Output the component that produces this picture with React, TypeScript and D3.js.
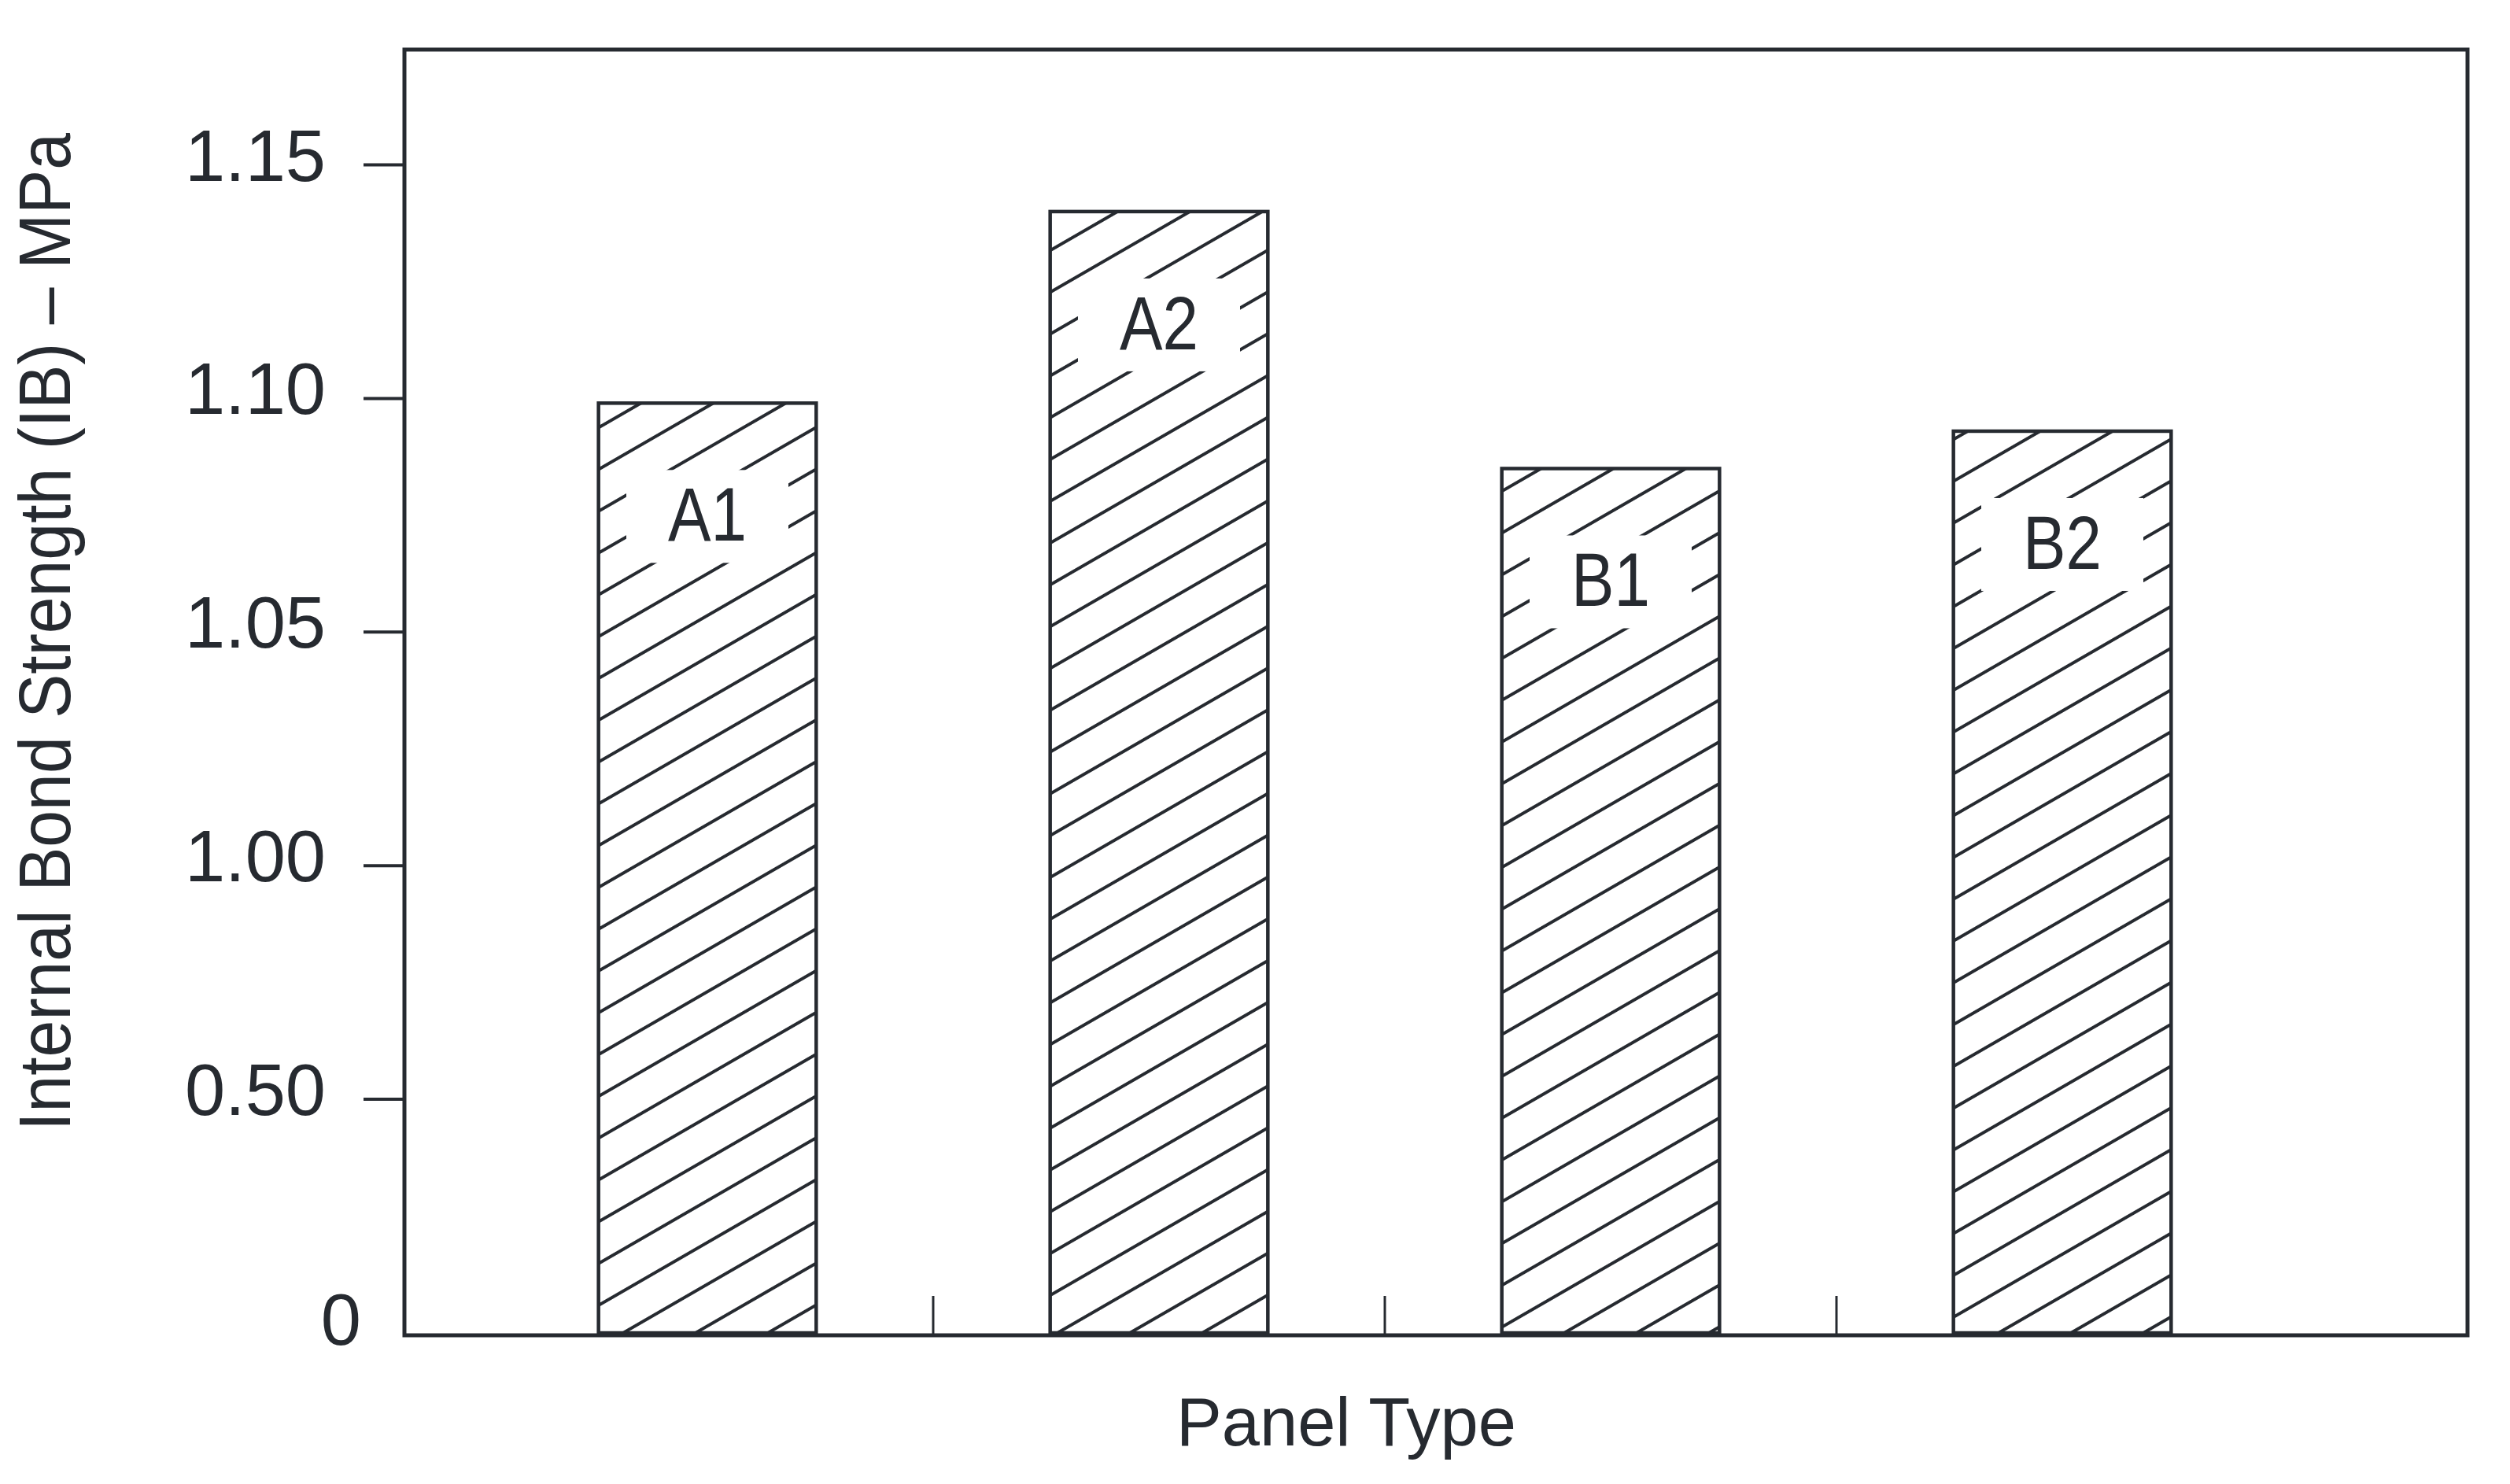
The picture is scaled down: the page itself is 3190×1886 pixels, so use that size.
import React from "react";
import * as d3 from "d3";

const categories = ["A1", "A2", "B1", "B2"];
const values = [1.099, 1.14, 1.085, 1.093];
const yTickValues = [0, 0.5, 1.0, 1.05, 1.1, 1.15];
const yTickLabels = ["0", "0.50", "1.00", "1.05", "1.10", "1.15"];
const yTitle = "Internal Bond Strength (IB) \u2013 MPa";
const xTitle = "Panel Type";

const W = 3190;
const H = 1886;
const frame = { left: 514, top: 63, right: 3136, bottom: 1697 };
const yZero = 1694;
const yStep = 296.9;
const ink = "#262a30";
const font = "'Liberation Sans', Arial, Helvetica, sans-serif";

export default function App() {
  const y = d3
    .scaleLinear()
    .domain(yTickValues)
    .range(yTickValues.map((_, i) => yZero - i * yStep));

  const x = d3
    .scaleBand<string>()
    .domain(categories)
    .range([612, 2908])
    .paddingInner(0.518)
    .paddingOuter(0.259);

  const step = x.step();
  const bw = x.bandwidth();
  const boundaries = categories.slice(1).map((c) => (x(c) as number) - (step - bw) / 2);

  return (
    <svg
      width={W}
      height={H}
      viewBox={`0 0 ${W} ${H}`}
      style={{ position: "absolute", left: 0, top: 0, background: "#fff" }}
    >
      <defs>
        <pattern
          id="hatch"
          patternUnits="userSpaceOnUse"
          width={46}
          height={46}
          patternTransform="rotate(-30)"
        >
          <line x1={-5} y1={23} x2={55} y2={23} stroke={ink} strokeWidth={3.8} />
        </pattern>
      </defs>
      <rect x={0} y={0} width={W} height={H} fill="#fff" />

      {/* bars */}
      {categories.map((c, i) => {
        const bx = x(c) as number;
        const top = y(values[i]);
        const cx = bx + bw / 2;
        const base = top + 175;
        return (
          <g key={c}>
            <rect
              x={bx}
              y={top}
              width={bw}
              height={yZero - top}
              fill="url(#hatch)"
              stroke={ink}
              strokeWidth={4.5}
            />
            <rect x={cx - 103} y={base - 90} width={206} height={118} fill="#fff" />
            <text
              x={cx}
              y={base}
              textAnchor="middle"
              fontFamily={font}
              fontSize={96}
              fill={ink}
              textLength={100}
              lengthAdjust="spacingAndGlyphs"
            >
              {c}
            </text>
          </g>
        );
      })}

      {/* frame */}
      <rect
        x={frame.left}
        y={frame.top}
        width={frame.right - frame.left}
        height={frame.bottom - frame.top}
        fill="none"
        stroke={ink}
        strokeWidth={5}
      />

      {/* y ticks */}
      {yTickValues.map((v, i) =>
        v === 0 ? (
          <text
            key={v}
            x={459}
            y={y(v) - 17}
            textAnchor="end"
            dominantBaseline="central"
            fontFamily={font}
            fontSize={92}
            fill={ink}
          >
            {yTickLabels[i]}
          </text>
        ) : (
          <g key={v}>
            <line x1={frame.left - 52} x2={frame.left} y1={y(v)} y2={y(v)} stroke={ink} strokeWidth={4} />
            <text
              x={414}
              y={y(v) - 12}
              textAnchor="end"
              dominantBaseline="central"
              fontFamily={font}
              fontSize={92}
              fill={ink}
            >
              {yTickLabels[i]}
            </text>
          </g>
        )
      )}

      {/* x ticks between categories */}
      {boundaries.map((bx, i) => (
        <line key={i} x1={bx} x2={bx} y1={frame.bottom} y2={frame.bottom - 50} stroke={ink} strokeWidth={3} />
      ))}

      {/* axis titles */}
      <text
        transform={`translate(89, 803) rotate(-90)`}
        textAnchor="middle"
        fontFamily={font}
        fontSize={92}
        fill={ink}
        textLength={1268}
        lengthAdjust="spacingAndGlyphs"
      >
        {yTitle}
      </text>
      <text
        x={1711}
        y={1837}
        textAnchor="middle"
        fontFamily={font}
        fontSize={88}
        fill={ink}
        textLength={432}
        lengthAdjust="spacingAndGlyphs"
      >
        {xTitle}
      </text>
    </svg>
  );
}
